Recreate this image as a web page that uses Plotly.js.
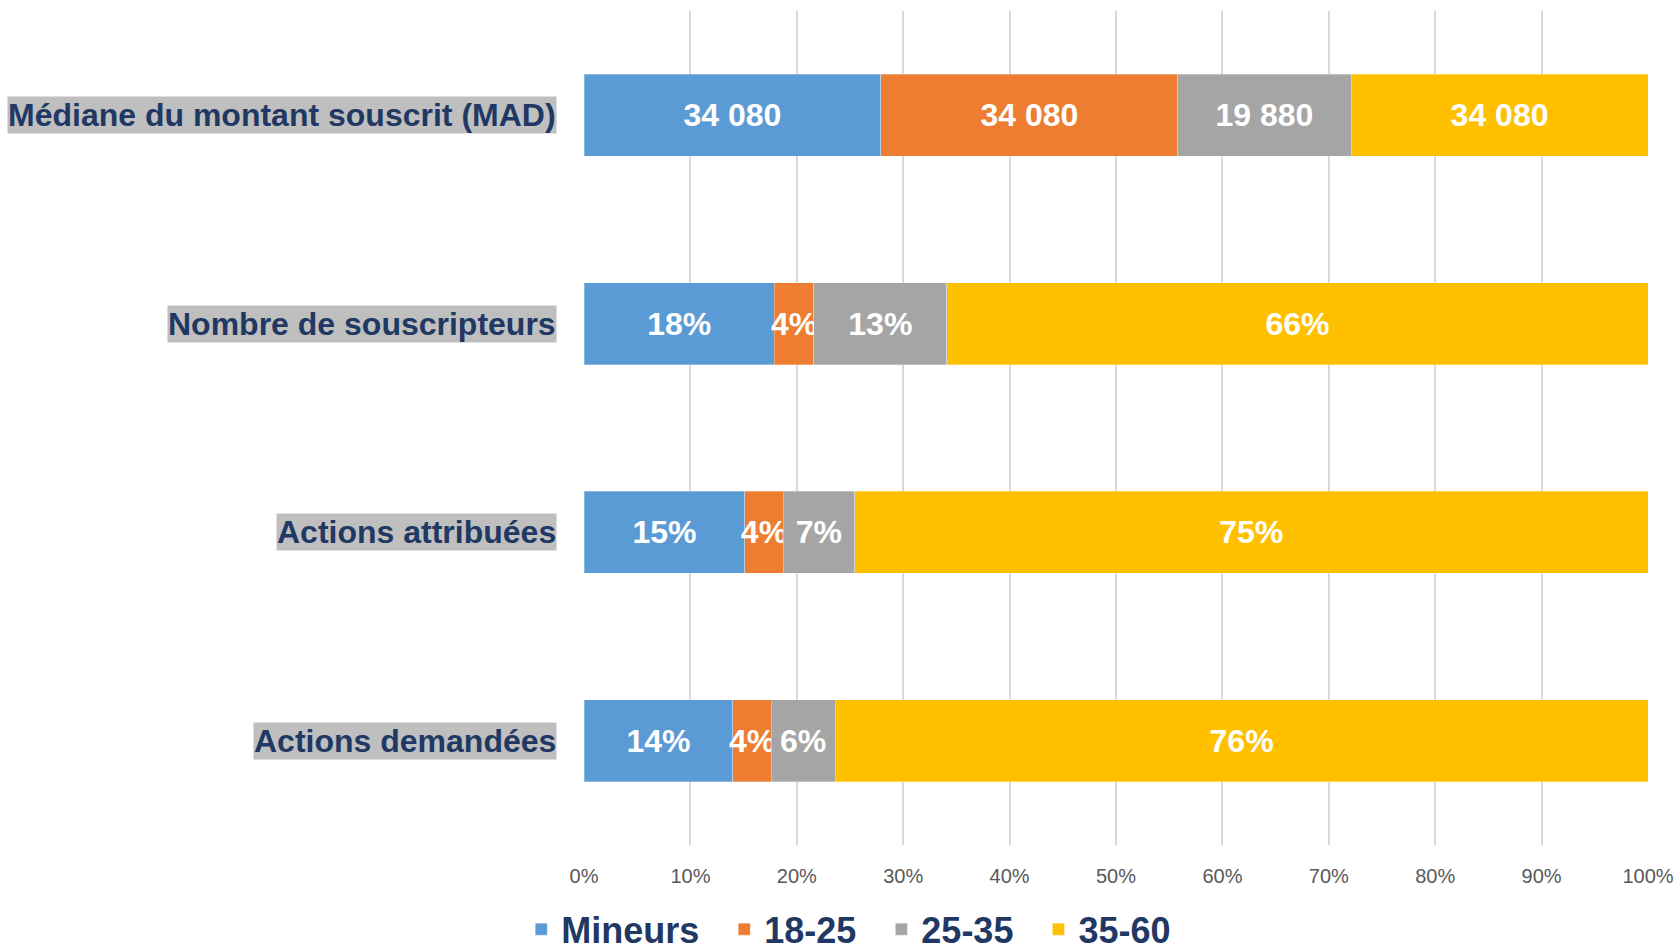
<!DOCTYPE html>
<html>
<head>
<meta charset="utf-8">
<script src="https://cdn.plot.ly/plotly-3.0.1.min.js"></script>
<style>html,body{margin:0;padding:0;background:#fff;}#chart{width:1678px;height:951px;}</style>
</head>
<body>
<div id="chart"></div>
<script>
// Categories, top to bottom as in the chart
const categories = ["Médiane du montant souscrit (MAD)", "Nombre de souscripteurs", "Actions attribuées", "Actions demandées"];
const seriesNames = ["Mineurs", "18-25", "25-35", "35-60"];
const seriesColors = ["#5B9BD5", "#ED7D31", "#A5A5A5", "#FFC000"];
// Values per series (same order as categories); rows are normalised to 100%
const mineurs = [34080, 17.9, 15.1, 14.0];
const age18_25 = [34080, 3.7, 3.6, 3.6];
const age25_35 = [19880, 12.5, 6.7, 6.0];
const age35_60 = [34080, 65.9, 74.5, 76.4];
// Labels shown inside bars
const labMineurs = ["34 080", "18%", "15%", "14%"];
const lab18_25 = ["34 080", "4%", "4%", "4%"];
const lab25_35 = ["19 880", "13%", "7%", "6%"];
const lab35_60 = ["34 080", "66%", "75%", "76%"];
const tickVals = [0,10,20,30,40,50,60,70,80,90,100];
const tickText = ["0%","10%","20%","30%","40%","50%","60%","70%","80%","90%","100%"];

const values = [mineurs, age18_25, age25_35, age35_60];
const labels = [labMineurs, lab18_25, lab25_35, lab35_60];

const traces = seriesNames.map((name, i) => ({
  type: 'bar',
  orientation: 'h',
  name: name + '\u00a0\u00a0',
  y: categories,
  x: values[i],
  text: labels[i],
  texttemplate: '%{text}',
  textposition: 'inside',
  insidetextanchor: 'middle',
  constraintext: 'none',
  textangle: 0,
  textfont: {family: 'Liberation Sans, Arial, sans-serif', size: 32, color: '#FFFFFF', weight: 'bold'},
  marker: {color: seriesColors[i], line: {color: 'rgba(255,255,255,0.6)', width: 0.5}},
  hoverinfo: 'x+y+name'
}));

const annotations = categories.map(c => ({
  xref: 'paper', yref: 'y', x: 0, y: c,
  xanchor: 'right', yanchor: 'middle', xshift: -27,
  text: '<b>' + c + '</b>', showarrow: false,
  bgcolor: '#BFBFBF', borderpad: 0,
  font: {family: 'Liberation Sans, Arial, sans-serif', size: 32, color: '#1F3864'}
}));

const layout = {
  width: 1678, height: 951,
  margin: {l: 584, r: 30, t: 11, b: 106, autoexpand: false},
  paper_bgcolor: '#FFFFFF', plot_bgcolor: '#FFFFFF',
  barmode: 'stack', barnorm: 'percent', bargap: 0.607,
  showlegend: true,
  legend: {
    orientation: 'h', x: -0.059, xanchor: 'left', y: -0.101, yanchor: 'middle',
    font: {family: 'Liberation Sans, Arial, sans-serif', size: 36, color: '#1F3864', weight: 'bold'},
    traceorder: 'normal', itemwidth: 30, tracegroupgap: 0
  },
  xaxis: {
    range: [0, 100], tickvals: tickVals, ticktext: tickText,
    showgrid: true, gridcolor: '#D9D9D9', gridwidth: 1.5,
    zeroline: false, showline: false, ticks: '', ticklabelstandoff: 17,
    tickfont: {family: 'Liberation Sans, Arial, sans-serif', size: 20, color: '#595959'},
    fixedrange: true
  },
  yaxis: {
    type: 'category', autorange: 'reversed', showticklabels: false,
    showgrid: false, zeroline: false, showline: false, ticks: '', fixedrange: true
  },
  annotations: annotations
};

Plotly.newPlot('chart', traces, layout, {displayModeBar: false, responsive: false});
</script>
</body>
</html>
